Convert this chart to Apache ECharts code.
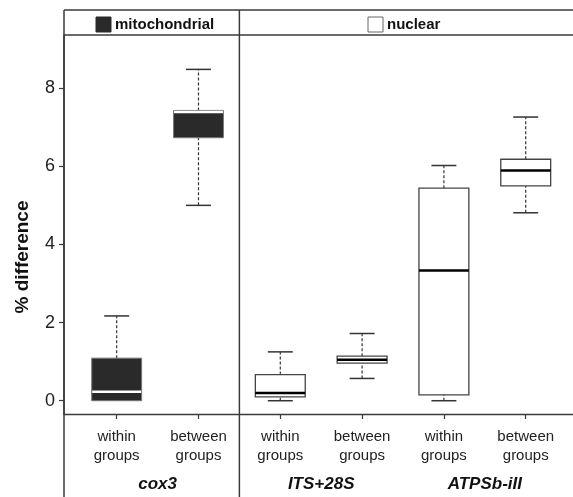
<!DOCTYPE html>
<html>
<head>
<meta charset="utf-8">
<script src="https://cdn.jsdelivr.net/npm/echarts@6/dist/echarts.min.js"></script>
<style>html,body{margin:0;padding:0;background:#fff}#c{width:573px;height:497px}</style>
</head>
<body>
<div id="c"></div>
<script>
// ---- data ----
const categories = ['within\ngroups', 'between\ngroups', 'within\ngroups', 'between\ngroups', 'within\ngroups', 'between\ngroups'];
const genes = ['cox3', 'ITS+28S', 'ATPSb-iII'];
const geneSpan = [[1, 2], [3, 4], [5, 6]];
const panels = ['mitochondrial', 'nuclear'];
const panelOf = [0, 0, 1, 1, 1, 1];
const lowerWhisker = [0.00, 5.00, 0.00, 0.57, 0.00, 4.81];
const q1 = [0.00, 6.73, 0.10, 0.96, 0.15, 5.50];
const median = [0.23, 7.39, 0.20, 1.05, 3.33, 5.89];
const q3 = [1.09, 7.43, 0.67, 1.14, 5.44, 6.18];
const upperWhisker = [2.17, 8.48, 1.25, 1.72, 6.02, 7.26];
const yTicks = [0, 2, 4, 6, 8];
const yName = '% difference';

// ---- layout / style ----
const BW = 0.61;
const FRAME = '#3a3a3a';
const FONT = 'Liberation Sans, Arial, sans-serif';

const boxData = categories.map((c, i) => [i + 1, lowerWhisker[i], q1[i], median[i], q3[i], upperWhisker[i], panelOf[i]]);

const chart = echarts.init(document.getElementById('c'), null, {renderer: 'canvas'});

chart.setOption({
  animation: false,
  backgroundColor: '#fff',
  grid: {left: 64, right: 0, top: 35, bottom: 83},
  xAxis: {
    type: 'value', min: 0.356, max: 6.578,
    splitLine: {show: false},
    axisLine: {show: true, onZero: false, lineStyle: {color: FRAME, width: 1.3}},
    axisTick: {show: true, customValues: categories.map((c, i) => i + 1), length: 5, lineStyle: {color: FRAME, width: 1.2}},
    axisLabel: {
      show: true, customValues: categories.map((c, i) => i + 1),
      formatter: v => categories[Math.round(v) - 1] || '',
      fontFamily: FONT, fontSize: 15, lineHeight: 19, color: '#222', margin: 13
    }
  },
  yAxis: {
    type: 'value', min: -0.34, max: 9.36,
    splitLine: {show: false},
    axisLine: {show: true, onZero: false, lineStyle: {color: FRAME, width: 1.5}},
    axisTick: {show: true, customValues: yTicks, length: 5, lineStyle: {color: FRAME, width: 1.2}},
    axisLabel: {show: true, customValues: yTicks, fontFamily: FONT, fontSize: 18, color: '#222', margin: 9}
  },
  series: [{
    type: 'custom',
    data: boxData,
    clip: false,
    renderItem: function (params, api) {
      const x = api.value(0);
      const lo = api.value(1), a = api.value(2), m = api.value(3), b = api.value(4), hi = api.value(5);
      const mito = api.value(6) === 0;
      const cx = api.coord([x, 0])[0];
      const L = api.coord([x - BW / 2, 0])[0];
      const R = api.coord([x + BW / 2, 0])[0];
      const cl = api.coord([x - BW / 4, 0])[0];
      const cr = api.coord([x + BW / 4, 0])[0];
      const y = v => api.coord([x, v])[1];
      const dash = {stroke: '#333', lineWidth: 1.2, lineDash: [3, 2]};
      const cap = {stroke: '#333', lineWidth: 1.5};
      const ch = [];
      ch.push({type: 'line', shape: {x1: cx, y1: y(b), x2: cx, y2: y(hi)}, style: dash});
      if (lo < a) ch.push({type: 'line', shape: {x1: cx, y1: y(lo), x2: cx, y2: y(a)}, style: dash});
      ch.push({type: 'line', shape: {x1: cl, y1: y(hi), x2: cr, y2: y(hi)}, style: cap});
      if (lo < a) ch.push({type: 'line', shape: {x1: cl, y1: y(lo), x2: cr, y2: y(lo)}, style: cap});
      ch.push({type: 'rect', shape: {x: L, y: y(b), width: R - L, height: y(a) - y(b)},
        style: mito ? {fill: '#2a2a2a', stroke: '#777', lineWidth: 1} : {fill: '#fff', stroke: '#444', lineWidth: 1.3}});
      ch.push({type: 'line', shape: {x1: L + (mito ? 0.5 : 0), y1: y(m), x2: R - (mito ? 0.5 : 0), y2: y(m)},
        style: {stroke: mito ? '#fff' : '#000', lineWidth: 2.5}});
      return {type: 'group', children: ch};
    }
  }]
});

// frame & text graphics (positions derived from the axes)
const px = (x, y) => chart.convertToPixel({gridIndex: 0}, [x, y]);
const leftX = px(0.356, 0)[0];
const divX = px(2.5, 0)[0];
const topY = 10, headY = px(0, 9.36)[1], axisY = px(0, -0.34)[1], botY = 497, rightX = 573;
const g = [];
const ln = (x1, y1, x2, y2) => g.push({type: 'line', shape: {x1, y1, x2, y2}, style: {stroke: FRAME, lineWidth: 1.5}, z: 10});
ln(leftX, topY, rightX, topY);
ln(leftX, headY, rightX, headY);
ln(leftX, topY, leftX, botY);
ln(divX, topY, divX, botY);

// panel headers
const headerLeft = [96, 368];
panels.forEach((p, k) => {
  const hx = headerLeft[k];
  const cy = (topY + headY) / 2 + 2;
  g.push({type: 'rect', shape: {x: hx, y: cy - 7.5, width: 15, height: 15},
    style: k === 0 ? {fill: '#2a2a2a', stroke: '#2a2a2a', lineWidth: 1} : {fill: '#fff', stroke: '#666', lineWidth: 1}, z: 10});
  g.push({type: 'text', x: hx + 19, y: cy, style: {text: p, fontFamily: FONT, fontWeight: 'bold', fontSize: 15,
    fill: '#111', textAlign: 'left', textVerticalAlign: 'middle'}, z: 10});
});

// gene names
genes.forEach((n, k) => {
  const mx = px((geneSpan[k][0] + geneSpan[k][1]) / 2, 0)[0];
  g.push({type: 'text', x: mx, y: 484, style: {text: n, fontFamily: FONT, fontWeight: 'bold', fontStyle: 'italic',
    fontSize: 17, fill: '#111', textAlign: 'center', textVerticalAlign: 'middle'}, z: 10});
});

// y name
g.push({type: 'text', x: 23, y: 257, rotation: Math.PI / 2, style: {text: yName, fontFamily: FONT, fontWeight: 'bold',
  fontSize: 19, fill: '#111', textAlign: 'center', textVerticalAlign: 'middle'}, z: 10});

chart.setOption({graphic: g});
</script>
</body>
</html>
